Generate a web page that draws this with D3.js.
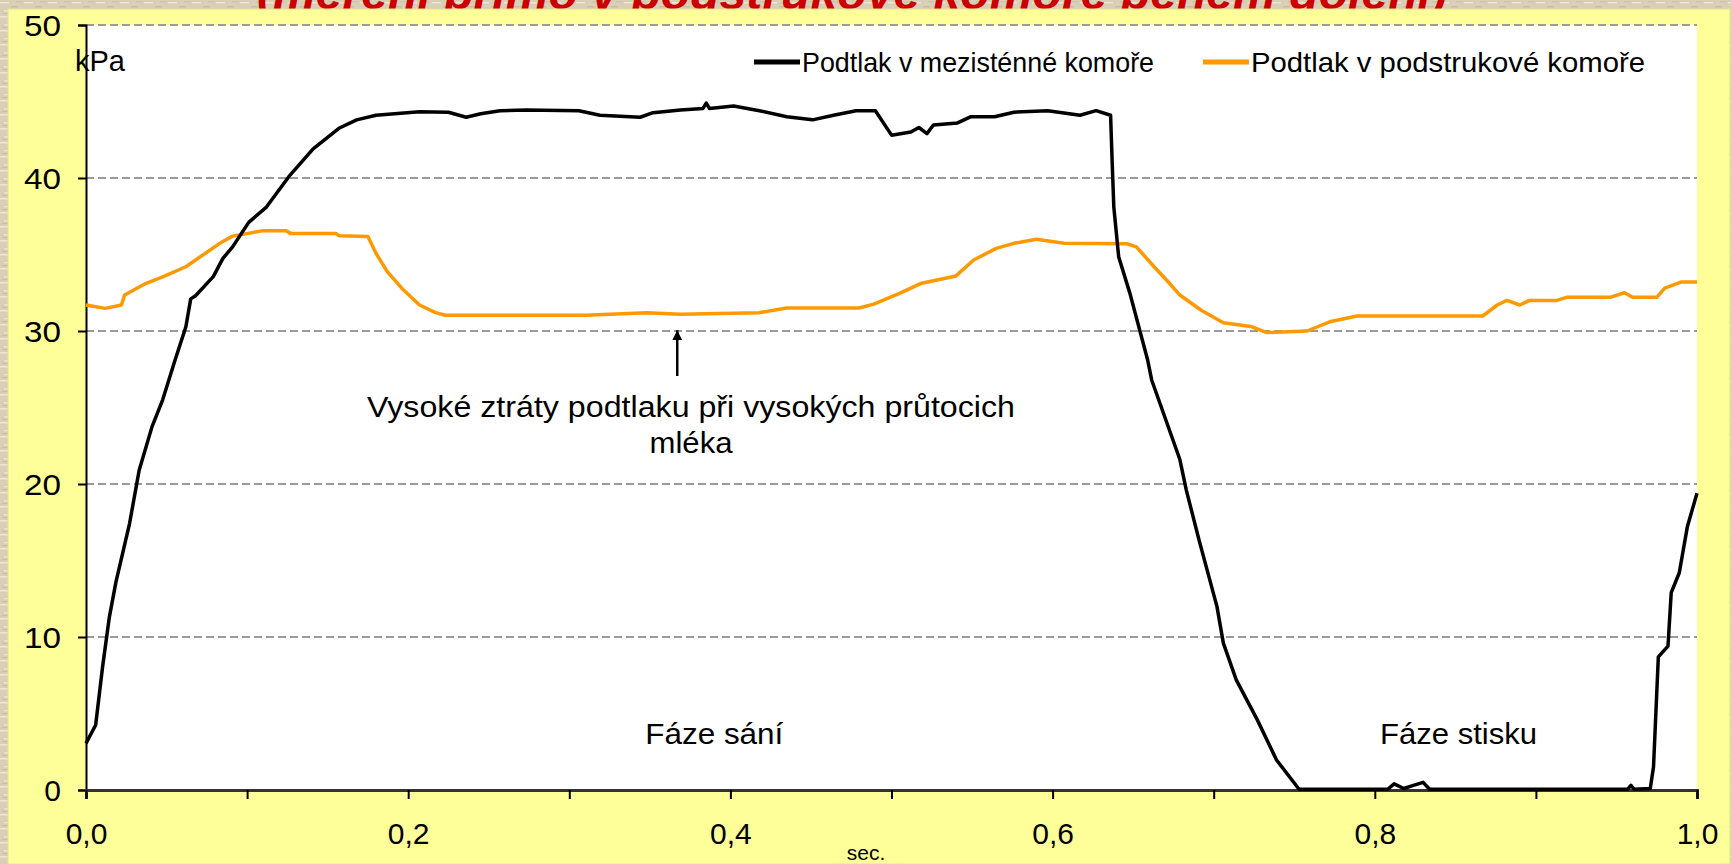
<!DOCTYPE html>
<html><head><meta charset="utf-8">
<script src="https://cdn.jsdelivr.net/npm/d3@7"></script>
<style>html,body{margin:0;padding:0;overflow:hidden;background:#DCD2BA;}svg{display:block;}</style>
</head><body>
<svg id="c" width="1731" height="864"></svg>
<script>
// ---- data ----
const blackT = [0,0.006,0.0103,0.0145,0.0186,0.027,0.033,0.041,0.0476,0.055,0.062,0.065,0.068,0.079,0.085,0.091,0.101,0.112,0.126,0.141,0.157,0.168,0.18,0.207,0.225,0.236,0.245,0.257,0.273,0.306,0.319,0.344,0.352,0.369,0.383,0.385,0.387,0.402,0.418,0.435,0.451,0.464,0.478,0.49,0.5,0.512,0.517,0.522,0.526,0.541,0.549,0.564,0.576,0.597,0.617,0.627,0.636,0.637,0.638,0.641,0.648,0.659,0.6615,0.679,0.683,0.691,0.702,0.706,0.714,0.727,0.739,0.753,0.808,0.812,0.818,0.824,0.83,0.834,0.957,0.959,0.961,0.971,0.973,0.976,0.982,0.984,0.989,0.994,1.0];
const blackV = [3.05,4.25,8.06,11.3,13.6,17.4,20.9,23.75,25.5,28.0,30.28,32.1,32.3,33.55,34.75,35.5,37.1,38.1,40.1,41.9,43.25,43.8,44.1,44.33,44.3,43.97,44.2,44.4,44.45,44.4,44.1,43.97,44.27,44.44,44.55,44.9,44.55,44.7,44.4,44.0,43.8,44.1,44.4,44.4,42.8,43.0,43.3,42.9,43.46,43.6,44.0,44.0,44.3,44.4,44.1,44.4,44.1,40.96,38.1,34.86,32.46,28.1,26.8,21.6,19.6,16.3,12.0,9.6,7.2,4.6,1.96,0.05,0.05,0.4,0.1,0.3,0.5,0.05,0.05,0.3,0.05,0.1,1.5,8.7,9.4,12.9,14.2,17.2,19.4];
const orangeT = [0,0.012,0.022,0.024,0.037,0.048,0.062,0.083,0.091,0.11,0.124,0.127,0.155,0.157,0.175,0.18,0.187,0.196,0.207,0.217,0.223,0.31,0.348,0.369,0.418,0.435,0.48,0.489,0.505,0.518,0.54,0.551,0.565,0.576,0.59,0.607,0.646,0.652,0.663,0.671,0.679,0.692,0.706,0.723,0.733,0.758,0.772,0.789,0.867,0.876,0.882,0.89,0.896,0.913,0.919,0.946,0.955,0.96,0.975,0.98,0.99,1.0];
const orangeV = [31.7,31.48,31.7,32.35,33.1,33.55,34.2,35.73,36.2,36.56,36.56,36.38,36.38,36.23,36.17,35.08,33.88,32.8,31.7,31.2,31.03,31.03,31.2,31.1,31.2,31.5,31.5,31.76,32.46,33.1,33.6,34.64,35.4,35.73,36.0,35.73,35.7,35.5,34.2,33.3,32.35,31.37,30.54,30.3,29.9,30.0,30.6,30.98,30.98,31.7,32.0,31.7,32.0,32.0,32.2,32.2,32.5,32.2,32.2,32.8,33.2,33.2];
const seriesNames = ["Podtlak v mezisténné komoře", "Podtlak v podstrukové komoře"];
const yTicks = [0,10,20,30,40,50];
const xTicks = [0,0.1,0.2,0.3,0.4,0.5,0.6,0.7,0.8,0.9,1.0];
const xLabelTicks = [0,0.2,0.4,0.6,0.8,1.0];
const titleText = "(měření přímo v podstrukové komoře během dojení)";
const annotationLines = ["Vysoké ztráty podtlaku při vysokých průtocich", "mléka"];
const phaseLabels = [{t:0.39, text:"Fáze sání"},{t:0.852, text:"Fáze stisku"}];
const annotationT = 0.367;

// ---- layout ----
const svg = d3.select("#c");
const W = 1731, H = 864;
const L = 86, R = 1697, T = 25, B = 790;
const x = d3.scaleLinear().domain([0,1]).range([L,R]);
const y = d3.scaleLinear().domain([0,50]).range([B,T]);
const font = "'Liberation Sans', Arial, sans-serif";

// textured beige background
const defs = svg.append("defs");
const pat = defs.append("pattern").attr("id","tex").attr("width",24).attr("height",14).attr("patternUnits","userSpaceOnUse");
pat.append("rect").attr("width",24).attr("height",14).attr("fill","#D9CFB7");
[[0,2,9,"#EDE6D4"],[11,6,7,"#C9BEA4"],[4,10,12,"#EAE2CE"],[16,1,6,"#CFC4AB"],[18,9,5,"#F0EADA"],[2,13,8,"#C8BCA2"]].forEach(d=>{
  pat.append("rect").attr("x",d[0]).attr("y",d[1]).attr("width",d[2]).attr("height",1.5).attr("fill",d[3]);
});
svg.append("rect").attr("width",W).attr("height",H).attr("fill","url(#tex)");

// title (mostly hidden behind chart box)
svg.append("text").attr("x",852).attr("y",9).attr("text-anchor","middle")
  .attr("font-family",font).attr("font-weight","bold").attr("font-style","italic")
  .attr("font-size",46).attr("fill","#CC0000")
  .attr("textLength",1190).attr("lengthAdjust","spacingAndGlyphs").text(titleText);

// chart box
svg.append("rect").attr("x",8).attr("y",9).attr("width",1722).attr("height",H-9)
  .attr("fill","#FFFF99").attr("stroke","#E6E0A0").attr("stroke-width",1);
// plot area
svg.append("rect").attr("x",L).attr("y",T).attr("width",R-L).attr("height",B-T).attr("fill","#FFFFFF");

// gridlines
svg.append("g").selectAll("line").data(yTicks.filter(d=>d>0)).join("line")
  .attr("x1",L).attr("x2",R).attr("y1",d=>y(d)).attr("y2",d=>y(d))
  .attr("stroke","#9A9A9A").attr("stroke-width",2).attr("stroke-dasharray","8,4");

// axes
const yAxis = d3.axisLeft(y).tickValues(yTicks).tickSize(8).tickPadding(6).tickFormat(d=>d);
const gy = svg.append("g").attr("transform",`translate(${L},0)`).call(yAxis);
gy.select(".domain").attr("stroke","#000").attr("stroke-width",2);
gy.selectAll(".tick line").attr("stroke","#000").attr("stroke-width",2);
gy.selectAll(".tick text").attr("font-family",font).attr("font-size",30).attr("fill","#000").attr("x",-25).attr("dy","0.36em")
  .each(function(d){ if (String(d).length===2) d3.select(this).attr("textLength",37).attr("lengthAdjust","spacingAndGlyphs"); });

const xAxis = d3.axisBottom(x).tickValues(xTicks).tickSize(9).tickPadding(20)
  .tickFormat(d=> xLabelTicks.some(v=>Math.abs(v-d)<1e-9) ? d3.format(".1f")(d).replace(".",",") : "");
const gx = svg.append("g").attr("transform",`translate(0,${B})`).call(xAxis);
gx.select(".domain").attr("stroke","#333").attr("stroke-width",3);
gx.selectAll(".tick line").attr("stroke","#000").attr("stroke-width",2);
gx.selectAll(".tick text").attr("font-family",font).attr("font-size",30).attr("fill","#000").attr("y",33);

// lines
const lineGen = d3.line().x(d=>x(d[0])).y(d=>y(d[1]));
const orangeData = orangeT.map((t,i)=>[t,orangeV[i]]);
const blackData = blackT.map((t,i)=>[t,blackV[i]]);
svg.append("path").datum(orangeData).attr("d",lineGen).attr("fill","none")
  .attr("stroke","#FF9900").attr("stroke-width",3.5).attr("stroke-linejoin","round");
svg.append("path").datum(blackData).attr("d",lineGen).attr("fill","none")
  .attr("stroke","#000").attr("stroke-width",3.5).attr("stroke-linejoin","round");

// axis unit labels
svg.append("text").attr("x",75).attr("y",71).attr("font-family",font).attr("font-size",29).attr("fill","#000").text("kPa");
svg.append("text").attr("x",866).attr("y",860).attr("text-anchor","middle").attr("font-family",font).attr("font-size",21).attr("fill","#000").text("sec.");

// legend
const legend = [{name:seriesNames[0], color:"#000", x:754, w:352},{name:seriesNames[1], color:"#FF9900", x:1203, w:394}];
const lg = svg.append("g");
legend.forEach(d=>{
  lg.append("line").attr("x1",d.x).attr("x2",d.x+46).attr("y1",62).attr("y2",62).attr("stroke",d.color).attr("stroke-width",5);
  lg.append("text").attr("x",d.x+48).attr("y",72).attr("font-family",font).attr("font-size",28).attr("fill","#000")
    .attr("textLength",d.w).attr("lengthAdjust","spacingAndGlyphs").text(d.name);
});

// annotation arrow
defs.append("marker").attr("id","arr").attr("viewBox","0 0 10 10").attr("refX",10).attr("refY",5)
  .attr("markerWidth",4).attr("markerHeight",5).attr("markerUnits","strokeWidth").attr("orient","auto")
  .append("path").attr("d","M0,0 L10,5 L0,10 Z").attr("fill","#000");
svg.append("line").attr("x1",x(annotationT)).attr("x2",x(annotationT)).attr("y1",376).attr("y2",y(30.05))
  .attr("stroke","#000").attr("stroke-width",2.5).attr("marker-end","url(#arr)");
const annW = [648, 83];
annotationLines.forEach((s,i)=>{
  svg.append("text").attr("x",691).attr("y",417+i*36).attr("text-anchor","middle")
    .attr("font-family",font).attr("font-size",30).attr("fill","#000")
    .attr("textLength",annW[i]).attr("lengthAdjust","spacingAndGlyphs").text(s);
});
const phaseW = [138, 157];
phaseLabels.forEach((p,i)=>{
  svg.append("text").attr("x",x(p.t)).attr("y",744).attr("text-anchor","middle")
    .attr("font-family",font).attr("font-size",30).attr("fill","#000")
    .attr("textLength",phaseW[i]).attr("lengthAdjust","spacingAndGlyphs").text(p.text);
});
</script>
</body></html>
